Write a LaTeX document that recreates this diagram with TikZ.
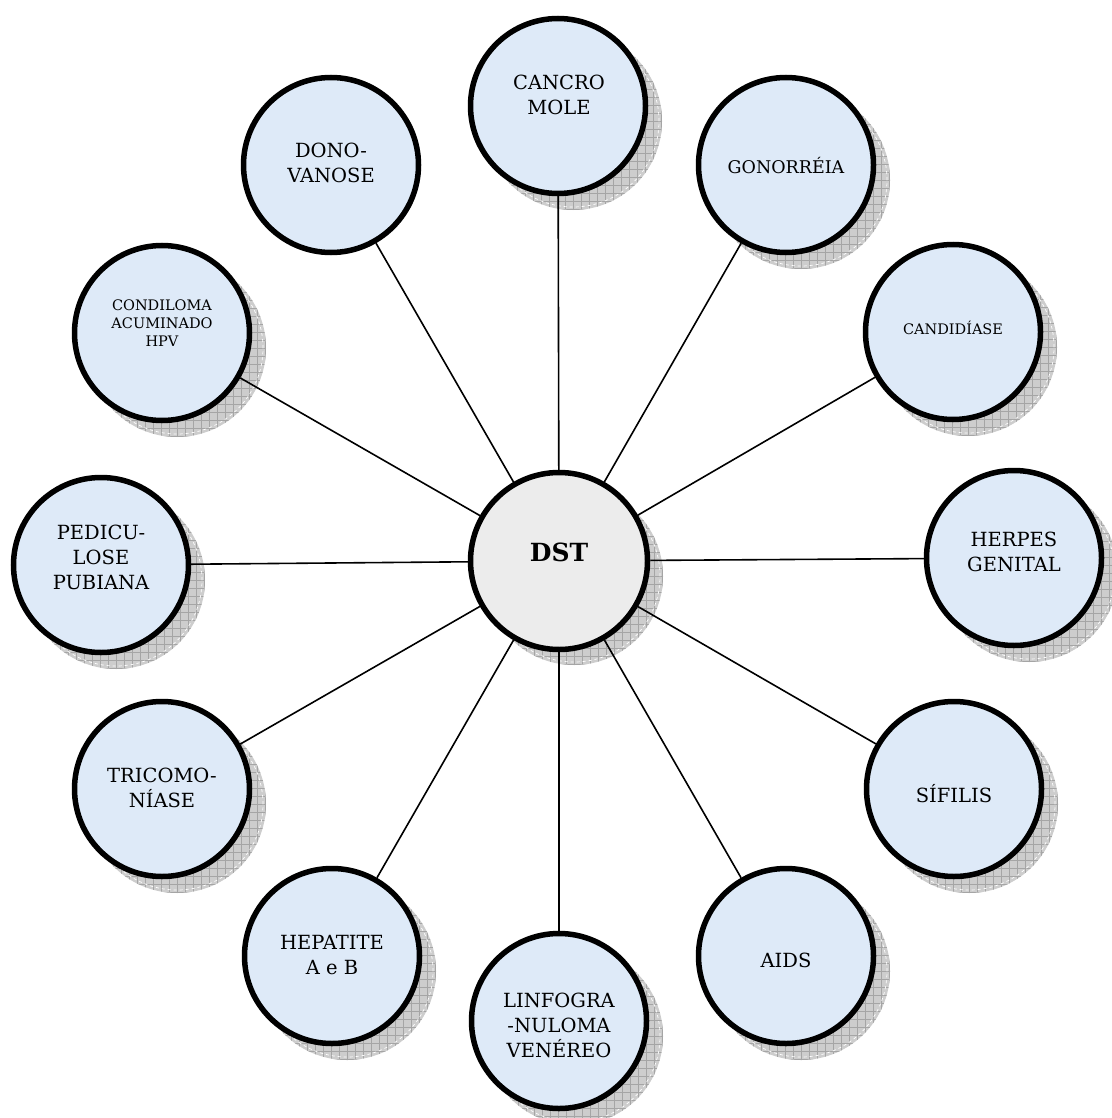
\documentclass[tikz,border=0pt]{standalone}
\usepackage{fontspec}
\setmainfont{DejaVu Serif}
\usetikzlibrary{calc}
\definecolor{bubble}{RGB}{222,234,248}
\definecolor{hubfill}{RGB}{236,236,236}
\definecolor{shadowgray}{RGB}{205,205,205}
\definecolor{gridgray}{RGB}{165,165,165}
\tikzset{
  disc/.style={circle, draw=black, line width=5.5pt, fill=bubble, minimum size=175pt, inner sep=0pt},
  hub/.style={disc, fill=hubfill, minimum size=177pt},
  link/.style={draw=black, line width=1.6pt},
  lbl/.style={align=center, font=\fontsize{19.5}{25}\selectfont, inner sep=0pt},
  lblmid/.style={lbl, font=\fontsize{17.5}{23}\selectfont},
  lblsmall/.style={lbl, font=\fontsize{14.5}{18}\selectfont},
  lblhub/.style={lbl, font=\fontsize{25}{30}\selectfont\bfseries},
}
\newcommand{\dropshadow}[1]{%
  \begin{scope}[shift={($(#1)+(15pt,-15pt)$)}]
    \fill[shadowgray] (0,0) circle (89pt);
    \begin{scope}
      \clip (0,0) circle (89pt);
      \draw[gridgray, line width=0.45pt, step=8pt] (-96pt,-96pt) grid (96pt,96pt);
    \end{scope}
    \draw[white, dashed, line width=0.7pt] (0,0) circle (86pt);
  \end{scope}}
\begin{document}
\begin{tikzpicture}[x=1pt, y=-1pt]
\useasboundingbox (0,0) rectangle (1111,1118);
% centre coordinates
\coordinate (pdst) at (559,561);
\coordinate (pcancro) at (558,106);
\coordinate (pgono) at (786,165);
\coordinate (pcandi) at (953,332);
\coordinate (pherpes) at (1014,558);
\coordinate (psifilis) at (954,789);
\coordinate (paids) at (786,956);
\coordinate (plinfo) at (559,1021);
\coordinate (phepa) at (332,956);
\coordinate (ptrico) at (162,789);
\coordinate (ppedi) at (101,565);
\coordinate (pcondi) at (162,333);
\coordinate (pdono) at (331,165);
% shadows
\foreach \p in {pdst,pcancro,pgono,pcandi,pherpes,psifilis,paids,plinfo,phepa,ptrico,ppedi,pcondi}{\dropshadow{\p}}
% circles
\node[hub] (dst) at (pdst) {};
\node[disc] (cancro) at (pcancro) {};
\node[disc] (gono) at (pgono) {};
\node[disc] (candi) at (pcandi) {};
\node[disc] (herpes) at (pherpes) {};
\node[disc] (sifilis) at (psifilis) {};
\node[disc] (aids) at (paids) {};
\node[disc] (linfo) at (plinfo) {};
\node[disc] (hepa) at (phepa) {};
\node[disc] (trico) at (ptrico) {};
\node[disc] (pedi) at (ppedi) {};
\node[disc] (condi) at (pcondi) {};
\node[disc] (dono) at (pdono) {};
% connectors
\foreach \n in {cancro,gono,candi,herpes,sifilis,aids,linfo,hepa,trico,pedi,condi,dono}{\draw[link] (dst) -- (\n);}
% labels
\node[lblhub] (tdst) at (559,552) {DST};
\node[lbl] (tcancro) at (559,95) {CANCRO\\MOLE};
\node[lblmid] (tgono) at (786,166) {GONORRÉIA};
\node[lblsmall] (tcandi) at (953,328) {CANDIDÍASE};
\node[lbl] (therpes) at (1014,552) {HERPES\\GENITAL};
\node[lbl] (tsifilis) at (954,794) {SÍFILIS};
\node[lbl] (taids) at (786,960) {AIDS};
\node[lbl] (tlinfo) at (559,1025) {LINFOGRA\\-NULOMA\\VENÉREO};
\node[lbl] (thepa) at (332,955) {HEPATITE\\A e B};
\node[lbl] (ttrico) at (162,788) {TRICOMO-\\NÍASE};
\node[lbl] (tpedi) at (101,557) {PEDICU-\\LOSE\\PUBIANA};
\node[lblsmall] (tcondi) at (162,323) {CONDILOMA\\ACUMINADO\\HPV};
\node[lbl] (tdono) at (331,163) {DONO-\\VANOSE};
\end{tikzpicture}
\end{document}
